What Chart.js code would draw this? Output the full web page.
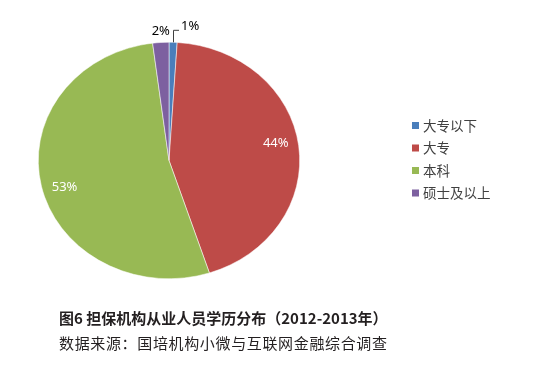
<!DOCTYPE html>
<html>
<head>
<meta charset="utf-8">
<script src="https://cdn.jsdelivr.net/npm/chart.js@4"></script>
<style>
    html, body { margin: 0; padding: 0; background: #fff; }
    #wrap { position: relative; width: 547px; height: 365px; }
    canvas { position: absolute; left: 0; top: 0; }
    .cap { position: absolute; left: 59px; font-family: "Noto Sans CJK SC", sans-serif; font-size: 15px; color: #231f20; white-space: nowrap; line-height: 1; }
</style>
</head>
<body>
<div id="wrap">
    <canvas id="pie" width="547" height="365"></canvas>
    <div class="cap" style="top:310px;font-weight:bold;">图6 担保机构从业人员学历分布（2012-2013年）</div>
    <div class="cap" style="top:335px;letter-spacing:0.65px;">数据来源：国培机构小微与互联网金融综合调查</div>
</div>
<script>
const categories = ['大专以下', '大专', '本科', '硕士及以上'];
const shares = [1, 44, 53, 2];
const colors = ['#4A7EBB', '#BE4B48', '#98B954', '#7D60A0'];

// pie in the reference is a bit wider than tall
const X_STRETCH = 131 / 118.5;

const ellipse = {
    id: 'ellipse',
    beforeDatasetsDraw(chart) {
        const arc = chart.getDatasetMeta(0).data[0];
        const ctx = chart.ctx;
        ctx.save();
        ctx.translate(arc.x, arc.y);
        ctx.scale(X_STRETCH, 1);
        ctx.translate(-arc.x, -arc.y);
    },
    afterDatasetsDraw(chart) {
        chart.ctx.restore();
    }
};

const pieLabels = {
    id: 'pieLabels',
    afterDraw(chart) {
        const ctx = chart.ctx;
        const meta = chart.getDatasetMeta(0);
        ctx.save();
        ctx.font = '13px "Noto Sans", sans-serif';
        ctx.textBaseline = 'middle';
        meta.data.forEach((arc, i) => {
            const mid = (arc.startAngle + arc.endAngle) / 2;
            const R = arc.outerRadius;
            const txt = shares[i] + '%';
            if (shares[i] >= 10) {
                const r = R * 0.83;
                const a = mid - 0.055;
                ctx.fillStyle = '#fff';
                ctx.textAlign = 'center';
                ctx.fillText(txt, arc.x + Math.cos(a) * r * X_STRETCH, arc.y + Math.sin(a) * r);
            } else {
                const ex = arc.x + Math.cos(mid) * R * X_STRETCH;
                const ey = arc.y + Math.sin(mid) * R;
                ctx.fillStyle = '#000';
                if (i === 0) {
                    // leader line up and right
                    ctx.strokeStyle = '#404040';
                    ctx.lineWidth = 1;
                    ctx.beginPath();
                    ctx.moveTo(Math.round(ex) + 0.5, ey);
                    ctx.lineTo(Math.round(ex) + 0.5, ey - 12);
                    ctx.lineTo(Math.round(ex) + 6, ey - 12);
                    ctx.stroke();
                    ctx.textAlign = 'left';
                    ctx.fillText(txt, ex + 8, ey - 16);
                } else {
                    ctx.textAlign = 'center';
                    ctx.fillText(txt, ex, ey - 11);
                }
            }
        });
        ctx.restore();
    }
};

const sideLegend = {
    id: 'sideLegend',
    afterDraw(chart) {
        const ctx = chart.ctx;
        ctx.save();
        ctx.font = '13.5px "Noto Sans CJK SC", sans-serif';
        ctx.textBaseline = 'middle';
        ctx.textAlign = 'left';
        categories.forEach((c, i) => {
            const y = 125.5 + i * 22.5;
            ctx.fillStyle = colors[i];
            ctx.fillRect(412, y - 3.5, 7, 7);
            ctx.fillStyle = '#404040';
            ctx.fillText(c, 423, y);
        });
        ctx.restore();
    }
};

new Chart(
    document.getElementById('pie'),
    {
        type: 'pie',
        data: {
            labels: categories,
            datasets: [
                {
                    data: shares,
                    backgroundColor: colors,
                    borderColor: '#fff',
                    borderWidth: 0.5
                }
            ]
        },
        options: {
            responsive: false,
            animation: false,
            layout: {
                padding: { left: 50, top: 42, right: 259, bottom: 86 }
            },
            plugins: {
                legend: { display: false },
                tooltip: { enabled: false }
            }
        },
        plugins: [ellipse, pieLabels, sideLegend]
    }
);
</script>
</body>
</html>
